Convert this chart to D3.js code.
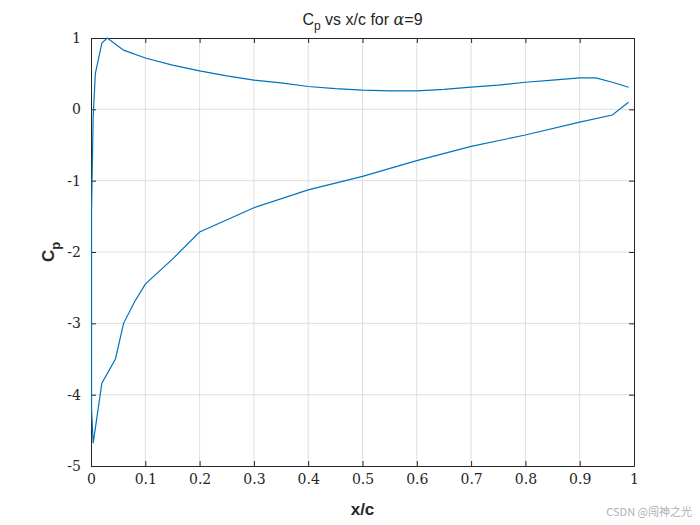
<!DOCTYPE html>
<html lang="en">
<head>
<meta charset="UTF-8">
<script src="https://d3js.org/d3.v7.min.js"></script>
<style>
    body { margin: 0; background: #fff; }
    .tick text { font-family: 'DejaVu Serif', 'Liberation Serif', serif; font-size: 14px; fill: #262626; }
</style>
</head>
<body>
<svg width="700" height="525"></svg>
<script>
// Lower (suction) surface, trailing edge -> leading edge
const lowerX  = [0.99, 0.96, 0.9, 0.8, 0.7, 0.6, 0.5, 0.4, 0.3, 0.2, 0.15, 0.1, 0.08, 0.06, 0.045, 0.02, 0.004, 0.001, 0.001];
const lowerCp = [0.10, -0.08, -0.18, -0.36, -0.52, -0.72, -0.94, -1.13, -1.38, -1.72, -2.1, -2.45, -2.7, -3.0, -3.5, -3.84, -4.68, -4.2, -1.42];
// Upper (pressure) surface, leading edge -> trailing edge
const upperX  = [0.001, 0.004, 0.008, 0.02, 0.03, 0.06, 0.1, 0.15, 0.2, 0.25, 0.3, 0.35, 0.4, 0.45, 0.5, 0.55, 0.6, 0.65, 0.7, 0.75, 0.8, 0.85, 0.9, 0.93, 0.96, 0.99];
const upperCp = [-1.42, -0.1, 0.5, 0.93, 1.0, 0.83, 0.72, 0.62, 0.54, 0.47, 0.41, 0.37, 0.32, 0.29, 0.27, 0.26, 0.26, 0.28, 0.31, 0.34, 0.38, 0.41, 0.44, 0.44, 0.38, 0.31];
const xTicks = [0, 0.1, 0.2, 0.3, 0.4, 0.5, 0.6, 0.7, 0.8, 0.9, 1];
const yTicks = [1, 0, -1, -2, -3, -4, -5];

const svg = d3.select("svg");
const pLeft = 91, pRight = 634, pTop = 38, pBottom = 466;
const x = d3.scaleLinear().domain([0, 1]).range([pLeft, pRight]);
const y = d3.scaleLinear().domain([-5, 1]).range([pBottom, pTop]);

// grid
svg.append("g").selectAll("line").data(xTicks.slice(1, -1)).join("line")
    .attr("x1", d => x(d)).attr("x2", d => x(d)).attr("y1", pTop).attr("y2", pBottom)
    .attr("stroke", "#dfdfdf");
svg.append("g").selectAll("line").data(yTicks.slice(1, -1)).join("line")
    .attr("y1", d => y(d)).attr("y2", d => y(d)).attr("x1", pLeft).attr("x2", pRight)
    .attr("stroke", "#dfdfdf");

// axes
const fmt = d => String(d);
svg.append("g").attr("transform", `translate(0,${pBottom})`)
    .call(d3.axisBottom(x).tickValues(xTicks).tickFormat(fmt).tickSizeInner(-5).tickSizeOuter(0).tickPadding(8));
svg.append("g").attr("transform", `translate(0,${pTop})`)
    .call(d3.axisTop(x).tickValues(xTicks).tickFormat("").tickSizeInner(-5).tickSizeOuter(0));
svg.append("g").attr("transform", `translate(${pLeft},0)`)
    .call(d3.axisLeft(y).tickValues(yTicks).tickFormat(fmt).tickSizeInner(-5).tickSizeOuter(0).tickPadding(10));
svg.append("g").attr("transform", `translate(${pRight},0)`)
    .call(d3.axisRight(y).tickValues(yTicks).tickFormat("").tickSizeInner(-5).tickSizeOuter(0));
svg.selectAll(".domain, .tick line").attr("stroke", "#262626");

// curve
const pts = lowerX.map((d, i) => [d, lowerCp[i]]).concat(upperX.map((d, i) => [d, upperCp[i]]));
svg.append("path").datum(pts)
    .attr("d", d3.line().x(d => x(d[0])).y(d => y(d[1])))
    .attr("fill", "none").attr("stroke", "#0072bd").attr("stroke-width", 1.2);

// labels
const title = svg.append("text").attr("x", (pLeft + pRight) / 2).attr("y", 25)
    .attr("text-anchor", "middle").attr("font-family", "Liberation Sans, Arial, sans-serif")
    .attr("font-size", 16).attr("fill", "#262626");
title.append("tspan").text("C");
title.append("tspan").attr("font-size", 12).attr("dy", 5).text("p");
title.append("tspan").attr("dy", -5).text(" vs x/c for ");
title.append("tspan").attr("font-family", "DejaVu Serif, serif").attr("font-style", "italic").text("α");
title.append("tspan").text("=9");

svg.append("text").attr("x", (pLeft + pRight) / 2).attr("y", 515)
    .attr("text-anchor", "middle").attr("font-family", "Liberation Sans, Arial, sans-serif")
    .attr("font-size", 17).attr("font-weight", "bold").attr("fill", "#262626").text("x/c");

const yl = svg.append("text").attr("transform", `translate(54,${(pTop + pBottom) / 2}) rotate(-90)`)
    .attr("text-anchor", "middle").attr("font-family", "Liberation Sans, Arial, sans-serif")
    .attr("font-size", 17).attr("font-weight", "bold").attr("fill", "#262626");
yl.append("tspan").text("C");
yl.append("tspan").attr("font-size", 13).attr("dy", 6).text("p");

svg.append("text").attr("x", 692).attr("y", 516).attr("text-anchor", "end")
    .attr("font-family", "Noto Sans CJK SC, sans-serif").attr("font-size", 11).attr("fill", "#b0b0b0")
    .text("CSDN @闯神之光");
</script>
</body>
</html>
